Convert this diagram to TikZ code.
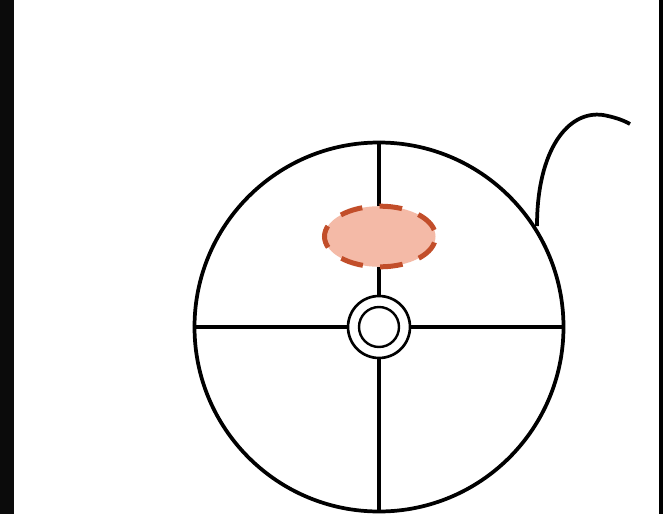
\documentclass[tikz,border=0pt]{standalone}
\usetikzlibrary{shapes.geometric}
\definecolor{strip}{HTML}{0B0B0B}
\definecolor{spotfill}{HTML}{F4BAA7}
\definecolor{spotline}{HTML}{C24E2A}
\tikzset{
  heavy/.style={line width=2.6pt, black},
  ring/.style={circle, draw, line width=2pt, inner sep=0pt},
  spot/.style={ellipse, draw=spotline, fill=spotfill, line width=3.75pt,
    dash pattern=on 17pt off 13pt, dash phase=25pt, inner sep=0pt,
    minimum width=83.25pt, minimum height=45.5pt}
}
\begin{document}
\begin{tikzpicture}[x=0.75pt,y=-0.75pt]
\useasboundingbox (0,0) rectangle (667,514);
\fill[white] (0,0) rectangle (667,514);
% left dark strip
\fill[strip] (0,0) rectangle (14,514);
% right vertical line
\coordinate (rt) at (661,0);
\coordinate (rb) at (661,514);
\draw[heavy] (rt) -- (rb);
% big circle
\coordinate (c) at (379,327);
\node[ring, line width=2.8pt, minimum size=276.75pt] (big) at (c) {};
\node[ring, minimum size=46.5pt] (outer) at (c) {};
\node[ring, line width=1.8pt, minimum size=30pt] (inner) at (c) {};
\draw[heavy] (big.west) -- (outer.west);
\draw[heavy] (outer.east) -- (big.east);
\draw[heavy] (big.north) -- (outer.north);
\draw[heavy] (outer.south) -- (big.south);
% spot
\node[spot] (sp) at (380,236.5) {};
% curve
\coordinate (cs) at (537,226);
\coordinate (ce) at (630,124);
\draw[heavy, line width=2.8pt] (cs) .. controls (537,150) and (568,110) .. (603,115) .. controls (614,117) and (623,120) .. (ce);
\end{tikzpicture}
\end{document}
